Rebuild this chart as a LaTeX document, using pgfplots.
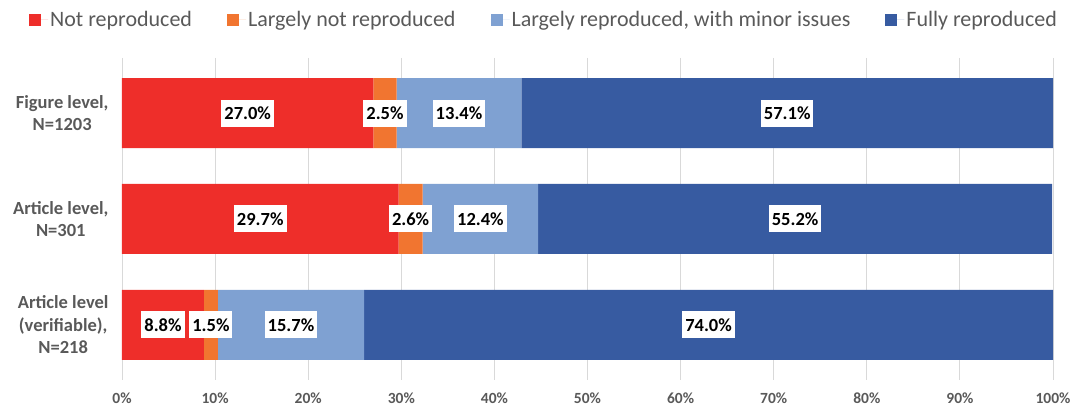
\documentclass[border=0pt]{standalone}
\usepackage{pgfplots}
\pgfplotsset{compat=1.18}
\usepackage{pgfplotstable}
\usepackage{fontspec}
\setmainfont{Carlito}

\definecolor{cRed}{RGB}{238,46,42}
\definecolor{cOrange}{RGB}{241,117,48}
\definecolor{cLight}{RGB}{127,161,210}
\definecolor{cDark}{RGB}{55,91,161}
\definecolor{txt}{RGB}{89,89,89}
\definecolor{gridc}{RGB}{217,217,217}

% y: 0 = figure level, 1 = article level, 2 = article level (verifiable)
\pgfplotstableread{
y v
0 27.0
1 29.7
2 8.8
}\notrep
\pgfplotstableread{
y v
0 2.5
1 2.6
2 1.5
}\largnot
\pgfplotstableread{
y v
0 13.4
1 12.4
2 15.7
}\largrep
\pgfplotstableread{
y v
0 57.1
1 55.2
2 74.0
}\fullrep

\begin{document}
\begin{tikzpicture}
\begin{axis}[
    at={(0pt,0pt)}, anchor=south west,
    xbar stacked,
    scale only axis,
    width=931pt, height=322pt,
    xmin=0, xmax=100,
    ymin=-0.52, ymax=2.52,
    y dir=reverse,
    bar width=70pt,
    axis line style={draw=none},
    xmajorgrids,
    grid style={gridc, line width=0.9pt},
    major tick style={draw=none},
    xtick={0,10,...,100},
    xticklabel={\pgfmathprintnumber{\tick}\%},
    xticklabel style={font=\fontsize{15.5}{18}\selectfont\bfseries, text=txt, yshift=-9pt},
    ytick={0,1,2},
    yticklabels={{Figure level,\\N=1203},{Article level,\\N=301},{Article level\\(verifiable),\\N=218}},
    yticklabel style={align=center, font=\fontsize{18.5}{22.5}\selectfont\bfseries, text=txt, xshift=-10pt},
    /pgf/number format/assume math mode=true,
    legend columns=4,
    legend style={draw=none, fill=none, at={(0.4533,1.118)}, anchor=center,
        font=\fontsize{22}{26}\selectfont, text=txt,
        /tikz/every even column/.append style={column sep=33pt}},
    legend image code/.code={\fill[#1] (0pt,-6pt) rectangle (12pt,6pt); \path (0pt,0pt) -- (19pt,0pt);},
    lbl/.style={
        draw=none,
        point meta=\thisrow{v},
        nodes near coords={\pgfmathprintnumber[fixed,fixed zerofill,precision=1]{\pgfplotspointmeta}\%},
        every node near coord/.style={anchor=center,
            fill=white, text=black, font=\fontsize{18.5}{22}\selectfont\bfseries,
            inner xsep=3pt, minimum height=27pt},
    },
]
\addplot[fill=cRed, lbl] table[x=v, y=y] {\notrep};
\addplot[fill=cOrange, lbl] table[x=v, y=y] {\largnot};
\addplot[fill=cLight, lbl] table[x=v, y=y] {\largrep};
\addplot[fill=cDark, lbl] table[x=v, y=y] {\fullrep};
\legend{Not reproduced, Largely not reproduced, {Largely reproduced, with minor issues}, Fully reproduced}
\end{axis}
\pgfresetboundingbox
\path[use as bounding box] (-122pt,-29pt) rectangle (957pt,380pt);
\end{tikzpicture}
\end{document}
